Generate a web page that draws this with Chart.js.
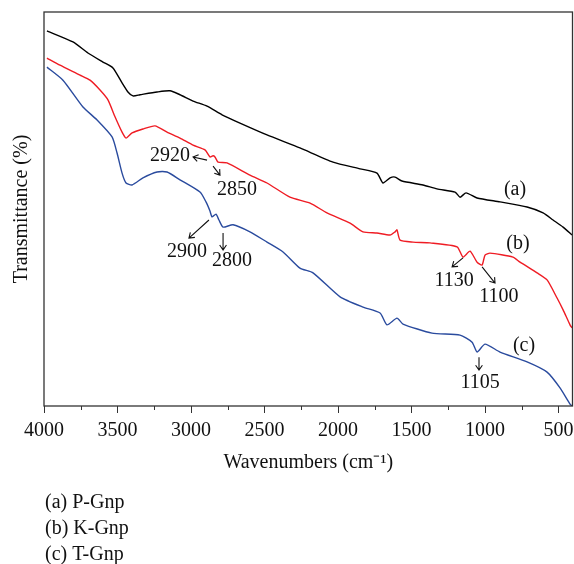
<!DOCTYPE html>
<html>
<head>
<meta charset="utf-8">
<script src="https://cdn.jsdelivr.net/npm/chart.js@4.4.1/dist/chart.umd.min.js"></script>
<style>
  html, body { margin: 0; padding: 0; background: #fff; }
</style>
</head>
<body>
<canvas id="ftirChart" width="574" height="564"></canvas>
<script>
// (a) P-Gnp - wavenumber / transmittance
const wnA = [3980, 3803, 3701, 3599, 3531, 3469, 3429, 3395, 3347, 3231, 3143, 3075, 2986, 2891, 2789, 2667, 2483, 2259, 2034, 1850, 1735, 1694, 1646, 1612, 1565, 1422, 1327, 1204, 1170, 1129, 1054, 898, 714, 605, 537, 469, 408];
const tA = [95.2, 92.4, 89.6, 87.3, 85.8, 82.0, 79.7, 78.7, 79.0, 79.7, 80.0, 79.0, 77.4, 76.1, 73.9, 71.8, 68.8, 65.5, 61.9, 60.2, 59.1, 56.6, 57.9, 58.1, 57.1, 56.1, 55.1, 54.3, 53.0, 54.1, 52.8, 51.8, 50.5, 49.0, 47.2, 45.4, 43.4];

// (b) K-Gnp
const wnB = [3980, 3891, 3755, 3687, 3619, 3565, 3517, 3469, 3442, 3401, 3327, 3245, 3163, 3075, 2986, 2905, 2871, 2850, 2837, 2816, 2755, 2599, 2483, 2327, 2190, 2075, 1918, 1830, 1735, 1646, 1612, 1599, 1578, 1490, 1374, 1190, 1150, 1102, 1054, 1020, 1000, 966, 810, 762, 646, 578, 510, 469, 422, 408];
const tB = [88.3, 86.5, 84.0, 82.7, 80.2, 77.7, 73.4, 69.5, 68.0, 69.3, 70.3, 71.1, 69.5, 68.0, 66.2, 65.0, 63.2, 63.5, 63.2, 61.9, 61.7, 58.6, 56.6, 53.0, 51.5, 49.0, 46.4, 44.2, 43.9, 43.4, 44.2, 44.7, 42.1, 41.6, 41.4, 40.4, 37.8, 39.3, 36.5, 35.8, 38.3, 38.8, 37.8, 36.5, 33.8, 32.0, 27.4, 24.4, 20.6, 19.8];

// (c) T-Gnp
const wnC = [3980, 3871, 3735, 3639, 3537, 3503, 3469, 3442, 3401, 3327, 3231, 3163, 3075, 2939, 2898, 2871, 2857, 2830, 2810, 2782, 2714, 2599, 2483, 2374, 2259, 2170, 1986, 1830, 1714, 1667, 1599, 1558, 1361, 1170, 1088, 1054, 1000, 898, 714, 578, 490, 422, 408];
const tC = [86.0, 82.7, 75.9, 72.6, 68.3, 64.2, 59.1, 56.6, 56.1, 57.9, 59.4, 59.4, 57.4, 54.3, 51.8, 49.5, 48.0, 48.7, 47.2, 45.4, 46.0, 44.2, 41.6, 39.1, 35.0, 33.8, 27.7, 25.1, 23.6, 20.6, 22.3, 20.8, 18.5, 18.0, 16.2, 13.7, 15.7, 13.7, 11.2, 8.6, 4.6, 0.5, 0];

const majorTicks = [4000, 3500, 3000, 2500, 2000, 1500, 1000, 500];
const minorTicks = [3750, 3250, 2750, 2250, 1750, 1250, 750];

const legendLines = ["(a) P-Gnp", "(b) K-Gnp", "(c) T-Gnp"];

// peak labels and arrows, in data units (wavenumber, transmittance)
const peakLabels = [
  { text: "2920", x: 3143, y: 63.5 },
  { text: "2850", x: 2687, y: 54.8 },
  { text: "2900", x: 3027, y: 39.1 },
  { text: "2800", x: 2721, y: 36.8 },
  { text: "1130", x: 1211, y: 31.7 },
  { text: "1100", x: 905, y: 27.7 },
  { text: "1105", x: 1034, y: 5.8 },
  { text: "(a)", x: 796, y: 54.8 },
  { text: "(b)", x: 776, y: 41.1 },
  { text: "(c)", x: 735, y: 15.2 }
];
const peakArrows = [
  { from: [2891, 62.4], to: [2986, 63.2] },
  { from: [2850, 60.9], to: [2803, 58.6] },
  { from: [2878, 47.2], to: [3014, 42.6] },
  { from: [2782, 43.9], to: [2782, 39.6] },
  { from: [1150, 37.6], to: [1224, 35.3] },
  { from: [1020, 35.3], to: [932, 31.2] },
  { from: [1041, 12.4], to: [1041, 9.1] }
];

const FONT = "Liberation Serif";

function toPoints(xs, ys) {
  return xs.map((x, i) => ({ x: x, y: ys[i] }));
}

// frame, minor ticks, peak notes and the sample list under the axis
const extrasPlugin = {
  id: "extras",
  afterDraw(chart) {
    const ctx = chart.ctx;
    const area = chart.chartArea;
    const xs = chart.scales.x;
    const ys = chart.scales.y;

    ctx.save();
    ctx.strokeStyle = "#333";
    ctx.lineWidth = 1.3;
    ctx.strokeRect(area.left, area.top, area.right - area.left, area.bottom - area.top);

    ctx.lineWidth = 1;
    minorTicks.forEach((v) => {
      const px = Math.round(xs.getPixelForValue(v)) + 0.5;
      ctx.beginPath();
      ctx.moveTo(px, area.bottom);
      ctx.lineTo(px, area.bottom + 4);
      ctx.stroke();
    });

    ctx.fillStyle = "#111";
    ctx.font = "20px '" + FONT + "'";
    ctx.textAlign = "center";
    ctx.textBaseline = "middle";
    peakLabels.forEach((l) => {
      ctx.fillText(l.text, xs.getPixelForValue(l.x), ys.getPixelForValue(l.y));
    });

    ctx.strokeStyle = "#111";
    ctx.lineWidth = 1.1;
    peakArrows.forEach((a) => {
      const x1 = xs.getPixelForValue(a.from[0]);
      const y1 = ys.getPixelForValue(a.from[1]);
      const x2 = xs.getPixelForValue(a.to[0]);
      const y2 = ys.getPixelForValue(a.to[1]);
      const ang = Math.atan2(y2 - y1, x2 - x1);
      const h = 6;
      ctx.beginPath();
      ctx.moveTo(x1, y1);
      ctx.lineTo(x2, y2);
      ctx.moveTo(x2 - h * Math.cos(ang - 0.6), y2 - h * Math.sin(ang - 0.6));
      ctx.lineTo(x2, y2);
      ctx.lineTo(x2 - h * Math.cos(ang + 0.6), y2 - h * Math.sin(ang + 0.6));
      ctx.stroke();
    });

    ctx.textAlign = "left";
    legendLines.forEach((t, i) => {
      ctx.fillText(t, 45, 503 + i * 26);
    });
    ctx.restore();
  }
};

const ctx = document.getElementById("ftirChart").getContext("2d");
new Chart(ctx, {
  type: "line",
  data: {
    datasets: [
      { label: "(a) P-Gnp", data: toPoints(wnA, tA), borderColor: "#000000", borderWidth: 1.4, pointRadius: 0, tension: 0.2 },
      { label: "(b) K-Gnp", data: toPoints(wnB, tB), borderColor: "#ef1c24", borderWidth: 1.4, pointRadius: 0, tension: 0.2 },
      { label: "(c) T-Gnp", data: toPoints(wnC, tC), borderColor: "#2a4b9e", borderWidth: 1.4, pointRadius: 0, tension: 0.2 }
    ]
  },
  options: {
    responsive: false,
    animation: false,
    layout: { padding: { top: 12, right: 1.5, bottom: 78, left: 0 } },
    plugins: {
      legend: { display: false },
      tooltip: { enabled: false }
    },
    scales: {
      x: {
        type: "linear",
        reverse: true,
        min: 405,
        max: 4000,
        afterBuildTicks: (scale) => {
          scale.ticks = majorTicks.map((v) => ({ value: v }));
        },
        afterFit: (scale) => {
          scale.height = 80;
          scale.paddingLeft = 0;
          scale.paddingRight = 0;
        },
        border: { display: false },
        grid: { display: true, drawOnChartArea: false, drawTicks: true, tickLength: 7, tickColor: "#333", tickWidth: 1 },
        ticks: {
          color: "#111",
          padding: 6,
          maxRotation: 0,
          autoSkip: false,
          font: { family: FONT, size: 20 },
          callback: (v) => String(v)
        },
        title: {
          display: true,
          text: "Wavenumbers (cm\u207B\u00B9)",
          color: "#111",
          font: { family: FONT, size: 20 },
          padding: { top: 0, bottom: 11 }
        }
      },
      y: {
        min: 0,
        max: 100,
        afterFit: (scale) => { scale.width = 44; },
        border: { display: false },
        grid: { display: false },
        ticks: { display: false },
        title: {
          display: true,
          text: "Transmittance (%)",
          color: "#111",
          font: { family: FONT, size: 20 },
          padding: { top: 10, bottom: 0 }
        }
      }
    }
  },
  plugins: [extrasPlugin]
});
</script>
</body>
</html>
